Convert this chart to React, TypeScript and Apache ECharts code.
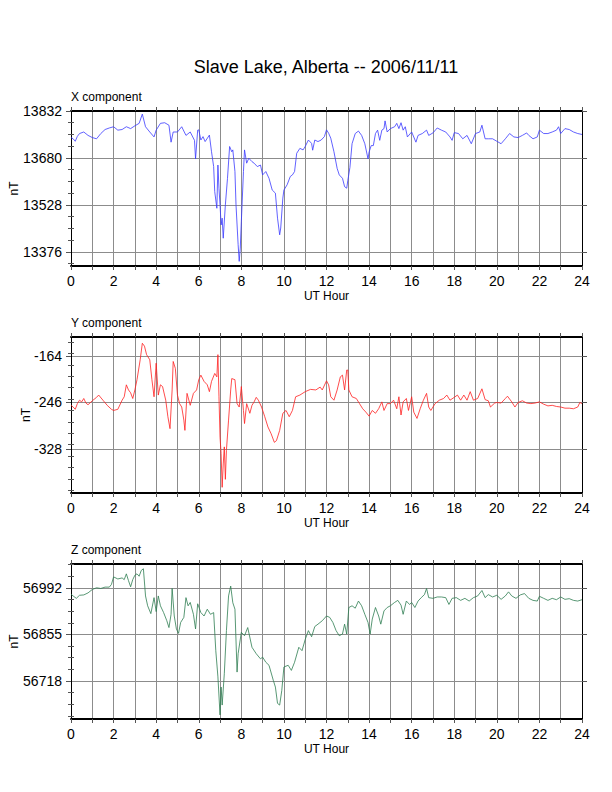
import React, { useEffect, useRef } from "react";
import * as echarts from "echarts";

const FONT = "'Liberation Sans', Arial, Helvetica, sans-serif";

const hourTicks = [0, 2, 4, 6, 8, 10, 12, 14, 16, 18, 20, 22, 24];

const xMajor = [13376, 13528, 13680, 13832];
const xMinor = [13338, 13414, 13452, 13490, 13566, 13604, 13642, 13718, 13756, 13794];
const xRange = [13330, 13832];

const yMajor = [-328, -246, -164];
const yMinor = [-140, -160, -180, -200, -220, -240, -260, -280, -300, -320, -340, -360, -380, -400];
const yRange = [-405, -131];

const zMajor = [56718, 56855, 56992];
const zMinor = [56615, 56649, 56684, 56752, 56787, 56821, 56889, 56923, 56958, 57026, 57060];
const zRange = [56606, 57062];

const xComponent = [
  [0, 13746], [0.1, 13742], [0.2, 13734], [0.3, 13750], [0.4, 13759], [0.6, 13764], [0.8, 13753],
  [1.0, 13746], [1.2, 13742], [1.4, 13759], [1.6, 13772], [1.8, 13777], [2.0, 13781], [2.2, 13770],
  [2.4, 13772], [2.6, 13781], [2.8, 13775], [3.0, 13784], [3.2, 13792], [3.35, 13822], [3.5, 13781],
  [3.7, 13764], [3.9, 13748], [4.0, 13770], [4.2, 13792], [4.4, 13794], [4.6, 13786], [4.7, 13731],
  [4.8, 13764], [5.0, 13764], [5.2, 13781], [5.4, 13753], [5.6, 13764], [5.8, 13737], [5.85, 13677],
  [5.95, 13770], [6.0, 13771], [6.1, 13738], [6.2, 13749], [6.3, 13733], [6.5, 13754], [6.6, 13700],
  [6.7, 13652], [6.75, 13571], [6.85, 13517], [6.9, 13657], [6.95, 13582], [7.0, 13528], [7.05, 13463],
  [7.1, 13485], [7.15, 13420], [7.25, 13528], [7.35, 13614], [7.45, 13717], [7.55, 13700], [7.6, 13706],
  [7.7, 13636], [7.75, 13528], [7.85, 13399], [7.9, 13345], [7.95, 13388], [8.0, 13474], [8.1, 13636],
  [8.15, 13706], [8.25, 13663], [8.35, 13679], [8.5, 13668], [8.6, 13663], [8.75, 13652], [8.9, 13657],
  [9.0, 13625], [9.15, 13636], [9.3, 13614], [9.45, 13576], [9.6, 13566], [9.7, 13485], [9.8, 13431],
  [9.85, 13453], [9.95, 13550], [10.0, 13576], [10.15, 13593], [10.3, 13620], [10.4, 13625], [10.5, 13636],
  [10.6, 13695], [10.75, 13711], [10.9, 13706], [11.0, 13717], [11.15, 13738], [11.3, 13727], [11.35, 13705],
  [11.45, 13738], [11.6, 13733], [11.75, 13738], [11.9, 13749], [12.0, 13771], [12.1, 13760], [12.2, 13744],
  [12.35, 13700], [12.5, 13646], [12.6, 13625], [12.75, 13614], [12.85, 13587], [12.95, 13582], [13.0, 13606],
  [13.1, 13649], [13.2, 13726], [13.35, 13759], [13.5, 13767], [13.65, 13753], [13.8, 13726], [13.95, 13677],
  [14.0, 13699], [14.1, 13720], [14.2, 13720], [14.3, 13759], [14.4, 13770], [14.5, 13737], [14.6, 13770],
  [14.7, 13775], [14.75, 13800], [14.85, 13764], [15.0, 13775], [15.2, 13781], [15.3, 13792], [15.4, 13775],
  [15.5, 13794], [15.6, 13770], [15.7, 13781], [15.8, 13748], [16.0, 13764], [16.2, 13731], [16.3, 13753],
  [16.5, 13759], [16.7, 13770], [16.8, 13753], [17.0, 13761], [17.2, 13777], [17.4, 13770], [17.6, 13764],
  [17.8, 13748], [17.9, 13737], [18.0, 13762], [18.2, 13759], [18.4, 13742], [18.6, 13753], [18.8, 13726],
  [19.0, 13759], [19.2, 13764], [19.3, 13786], [19.45, 13742], [19.6, 13742], [19.8, 13742], [20.0, 13734],
  [20.2, 13726], [20.4, 13742], [20.6, 13759], [20.8, 13748], [21.0, 13746], [21.2, 13753], [21.4, 13761],
  [21.5, 13753], [21.7, 13742], [21.9, 13748], [22.0, 13770], [22.2, 13759], [22.4, 13759], [22.6, 13764],
  [22.8, 13770], [22.9, 13781], [23.0, 13759], [23.2, 13775], [23.4, 13772], [23.6, 13764], [23.8, 13759],
  [24.0, 13756],
];

const yComponent = [
  [0.0, -251], [0.1, -254], [0.2, -258], [0.3, -248], [0.4, -242], [0.5, -245], [0.6, -239], [0.7, -247],
  [0.8, -250], [1.0, -243], [1.2, -237], [1.3, -233], [1.5, -242], [1.7, -251], [1.9, -258], [2.0, -260],
  [2.2, -258], [2.4, -242], [2.5, -236], [2.6, -215], [2.7, -224], [2.8, -229], [2.9, -239], [3.0, -224],
  [3.1, -206], [3.25, -171], [3.35, -142], [3.45, -147], [3.55, -162], [3.7, -171], [3.8, -206], [3.9, -236],
  [4.0, -177], [4.1, -233], [4.2, -215], [4.3, -218], [4.45, -242], [4.55, -271], [4.65, -292], [4.75, -224],
  [4.8, -174], [4.9, -186], [5.0, -233], [5.1, -248], [5.2, -254], [5.3, -277], [5.35, -295], [5.45, -230],
  [5.6, -251], [5.75, -230], [5.9, -224], [6.0, -206], [6.1, -198], [6.25, -209], [6.4, -215], [6.5, -227],
  [6.6, -209], [6.75, -195], [6.85, -201], [6.9, -162], [6.95, -236], [7.0, -307], [7.05, -336], [7.1, -395],
  [7.15, -354], [7.2, -324], [7.25, -381], [7.3, -330], [7.4, -277], [7.5, -224], [7.55, -204], [7.7, -206],
  [7.8, -248], [7.9, -254], [8.0, -218], [8.1, -260], [8.15, -283], [8.25, -248], [8.4, -265], [8.5, -251],
  [8.6, -245], [8.7, -237], [8.8, -242], [8.95, -254], [9.1, -271], [9.25, -289], [9.4, -301], [9.55, -316],
  [9.65, -313], [9.8, -295], [9.95, -265], [10.1, -260], [10.25, -271], [10.4, -260], [10.55, -236],
  [10.75, -233], [11.0, -227], [11.25, -223], [11.5, -224], [11.7, -219], [11.8, -224], [12.0, -208],
  [12.1, -215], [12.2, -236], [12.35, -242], [12.5, -224], [12.65, -201], [12.75, -198], [12.85, -224],
  [12.95, -189], [13.0, -189], [13.05, -224], [13.2, -236], [13.4, -239], [13.55, -248], [13.7, -257],
  [13.85, -263], [14.0, -270], [14.15, -260], [14.3, -265], [14.45, -257], [14.6, -245], [14.7, -260],
  [14.85, -248], [15.0, -248], [15.15, -242], [15.3, -257], [15.4, -236], [15.5, -268], [15.6, -245],
  [15.75, -239], [15.85, -260], [16.0, -236], [16.1, -263], [16.25, -274], [16.4, -257], [16.55, -242],
  [16.7, -230], [16.8, -254], [16.9, -260], [17.1, -248], [17.3, -242], [17.5, -239], [17.65, -233],
  [17.8, -242], [18.0, -237], [18.15, -233], [18.3, -242], [18.45, -233], [18.6, -242], [18.75, -227],
  [18.9, -242], [19.1, -239], [19.3, -222], [19.45, -241], [19.6, -243], [19.7, -254], [19.9, -247],
  [20.0, -246], [20.2, -247], [20.4, -239], [20.5, -235], [20.7, -245], [20.85, -254], [21.0, -246],
  [21.2, -243], [21.4, -247], [21.6, -248], [21.8, -247], [22.0, -245], [22.2, -249], [22.4, -252],
  [22.6, -251], [22.8, -253], [23.0, -254], [23.2, -256], [23.4, -256], [23.6, -257], [23.8, -254],
  [23.9, -246], [24.0, -248],
];

const zComponent = [
  [0.0, 56973], [0.1, 56968], [0.25, 56961], [0.4, 56970], [0.6, 56971], [0.8, 56977], [1.0, 56987],
  [1.2, 56992], [1.4, 56990], [1.6, 56994], [1.8, 56994], [1.9, 57002], [2.0, 57024], [2.2, 57018],
  [2.4, 57021], [2.5, 57016], [2.6, 57033], [2.7, 57013], [2.8, 56995], [2.9, 57016], [3.0, 57029],
  [3.1, 57033], [3.2, 57026], [3.3, 57043], [3.4, 57048], [3.5, 56968], [3.6, 56939], [3.75, 56916],
  [3.9, 56963], [4.0, 56922], [4.1, 56968], [4.2, 56939], [4.35, 56919], [4.5, 56895], [4.6, 56875],
  [4.7, 56914], [4.75, 56990], [4.85, 56909], [4.95, 56871], [5.05, 56858], [5.15, 56890], [5.3, 56905],
  [5.4, 56963], [5.5, 56939], [5.6, 56949], [5.75, 56914], [5.85, 56871], [5.95, 56945], [6.1, 56919],
  [6.25, 56909], [6.4, 56929], [6.55, 56914], [6.7, 56919], [6.8, 56807], [6.9, 56730], [7.0, 56618],
  [7.05, 56700], [7.1, 56647], [7.2, 56739], [7.3, 56866], [7.4, 56968], [7.5, 56997], [7.6, 56948],
  [7.7, 56929], [7.8, 56744], [7.85, 56798], [8.0, 56861], [8.15, 56851], [8.3, 56875], [8.5, 56817],
  [8.7, 56798], [8.9, 56783], [9.0, 56788], [9.15, 56773], [9.3, 56764], [9.5, 56720], [9.6, 56700],
  [9.7, 56652], [9.8, 56647], [9.9, 56690], [10.0, 56759], [10.2, 56764], [10.35, 56749], [10.5, 56773],
  [10.7, 56817], [10.85, 56807], [11.0, 56840], [11.15, 56866], [11.3, 56848], [11.45, 56878],
  [11.6, 56885], [11.8, 56895], [12.0, 56909], [12.15, 56905], [12.3, 56890], [12.45, 56866], [12.6, 56851],
  [12.75, 56856], [12.85, 56885], [12.95, 56856], [13.05, 56934], [13.2, 56939], [13.35, 56932],
  [13.5, 56953], [13.65, 56939], [13.8, 56914], [13.95, 56890], [14.05, 56856], [14.15, 56900],
  [14.3, 56934], [14.45, 56909], [14.55, 56885], [14.7, 56924], [14.85, 56934], [15.0, 56939],
  [15.2, 56949], [15.35, 56955], [15.5, 56941], [15.6, 56914], [15.75, 56953], [15.9, 56943],
  [16.0, 56949], [16.15, 56934], [16.3, 56953], [16.45, 56963], [16.6, 56972], [16.7, 56990],
  [16.8, 56963], [17.0, 56961], [17.2, 56965], [17.4, 56965], [17.6, 56963], [17.75, 56943],
  [17.9, 56961], [18.1, 56963], [18.3, 56955], [18.5, 56961], [18.7, 56953], [18.9, 56963],
  [19.1, 56968], [19.3, 56984], [19.45, 56963], [19.6, 56972], [19.8, 56965], [20.0, 56970],
  [20.2, 56958], [20.4, 56968], [20.55, 56980], [20.7, 56968], [20.9, 56961], [21.1, 56971],
  [21.3, 56975], [21.5, 56961], [21.7, 56955], [21.9, 56953], [22.0, 56967], [22.2, 56961],
  [22.4, 56955], [22.6, 56961], [22.8, 56957], [23.0, 56965], [23.2, 56958], [23.4, 56960],
  [23.6, 56955], [23.8, 56953], [24.0, 56957],
];

const panels = [
  { title: "X component", top: 111, height: 155, range: xRange, major: xMajor, minor: xMinor, data: xComponent, color: "#3a3aff", nameGap: 51 },
  { title: "Y component", top: 337, height: 156, range: yRange, major: yMajor, minor: yMinor, data: yComponent, color: "#ff2020", nameGap: 39 },
  { title: "Z component", top: 564, height: 155, range: zRange, major: zMajor, minor: zMinor, data: zComponent, color: "#2e7d52", nameGap: 51 },
];

const GRID_LEFT = 71;
const GRID_RIGHT = 30;
const GRID_COLOR = "#8c8c8c";
const TICK_COLOR = "#555";

function buildOption() {
  const grid: any[] = [];
  const xAxis: any[] = [];
  const yAxis: any[] = [];
  const series: any[] = [];
  const title: any[] = [
    {
      text: "Slave Lake, Alberta -- 2006/11/11",
      left: 326,
      top: 58,
      textAlign: "center",
      padding: 0,
      textStyle: { fontFamily: FONT, fontSize: 18, fontWeight: "normal", color: "#000" },
    },
  ];

  panels.forEach((p, i) => {
    grid.push({
      left: GRID_LEFT,
      right: GRID_RIGHT,
      top: p.top,
      height: p.height,
      containLabel: false,
      outerBoundsMode: "none",
    });
    title.push({
      text: p.title,
      left: GRID_LEFT,
      top: p.top - 20,
      padding: 0,
      textStyle: { fontFamily: FONT, fontSize: 12, fontWeight: "normal", color: "#000" },
    });
    const baseX = {
      type: "value",
      gridIndex: i,
      min: 0,
      max: 24,
      interval: 1,
      axisLine: { show: true, onZero: false, lineStyle: { color: "#000", width: 2 } },
      axisTick: { show: true, inside: false, length: 4, lineStyle: { color: TICK_COLOR, width: 1 } },
    };
    xAxis.push({
      ...baseX,
      position: "bottom",
      name: "UT Hour",
      nameLocation: "middle",
      nameGap: 24,
      nameMoveOverlap: false,
      nameTextStyle: { fontFamily: FONT, fontSize: 12, color: "#000" },
      axisLabel: {
        show: true,
        margin: 8,
        fontFamily: FONT,
        fontSize: 14,
        color: "#000",
        formatter: (v: number) => (hourTicks.includes(v) ? String(v) : ""),
      },
      splitLine: { show: true, lineStyle: { color: GRID_COLOR, width: 1 } },
    });
    xAxis.push({
      ...baseX,
      position: "top",
      axisLabel: { show: false },
      splitLine: { show: false },
    });

    const [mn, mx] = p.range;
    const baseY = { type: "value", gridIndex: i, min: mn, max: mx };
    yAxis.push({
      ...baseY,
      position: "left",
      name: "nT",
      nameLocation: "middle",
      nameGap: p.nameGap,
      nameMoveOverlap: false,
      nameTextStyle: { fontFamily: FONT, fontSize: 12, color: "#000" },
      axisLine: { show: true, onZero: false, lineStyle: { color: "#000", width: 1 } },
      axisTick: { show: true, length: 5, customValues: p.major, lineStyle: { color: TICK_COLOR } },
      axisLabel: {
        show: true,
        customValues: p.major,
        margin: 9,
        fontFamily: FONT,
        fontSize: 14,
        color: "#000",
        formatter: (v: number) => String(Math.round(v)),
      },
      splitLine: { show: true, lineStyle: { color: GRID_COLOR, width: 1 } },
    });
    yAxis.push({
      ...baseY,
      position: "left",
      axisLine: { show: false },
      axisTick: { show: true, length: 3, customValues: p.minor, lineStyle: { color: TICK_COLOR } },
      axisLabel: { show: false },
      splitLine: { show: false },
    });
    yAxis.push({
      ...baseY,
      position: "right",
      axisLine: { show: true, onZero: false, lineStyle: { color: "#000", width: 1 } },
      axisTick: { show: true, length: 5, customValues: p.major, lineStyle: { color: TICK_COLOR } },
      axisLabel: { show: false },
      splitLine: { show: false },
    });
    yAxis.push({
      ...baseY,
      position: "right",
      axisLine: { show: false },
      axisTick: { show: true, length: 3, customValues: p.minor, lineStyle: { color: TICK_COLOR } },
      axisLabel: { show: false },
      splitLine: { show: false },
    });

    series.push({
      type: "line",
      name: p.title,
      xAxisIndex: i * 2,
      yAxisIndex: i * 4,
      data: p.data,
      showSymbol: false,
      symbol: "none",
      clip: true,
      lineStyle: { color: p.color, width: 0.8 },
    });
  });

  return { animation: false, backgroundColor: "#fff", title, grid, xAxis, yAxis, series };
}

export default function App() {
  const ref = useRef<HTMLDivElement>(null);
  useEffect(() => {
    if (!ref.current) return;
    const chart = echarts.init(ref.current, undefined, { renderer: "svg" });
    chart.setOption(buildOption() as any);
    return () => chart.dispose();
  }, []);
  return (
    <div
      ref={ref}
      style={{ position: "absolute", left: 0, top: 0, width: 612, height: 792, background: "#fff" }}
    />
  );
}
